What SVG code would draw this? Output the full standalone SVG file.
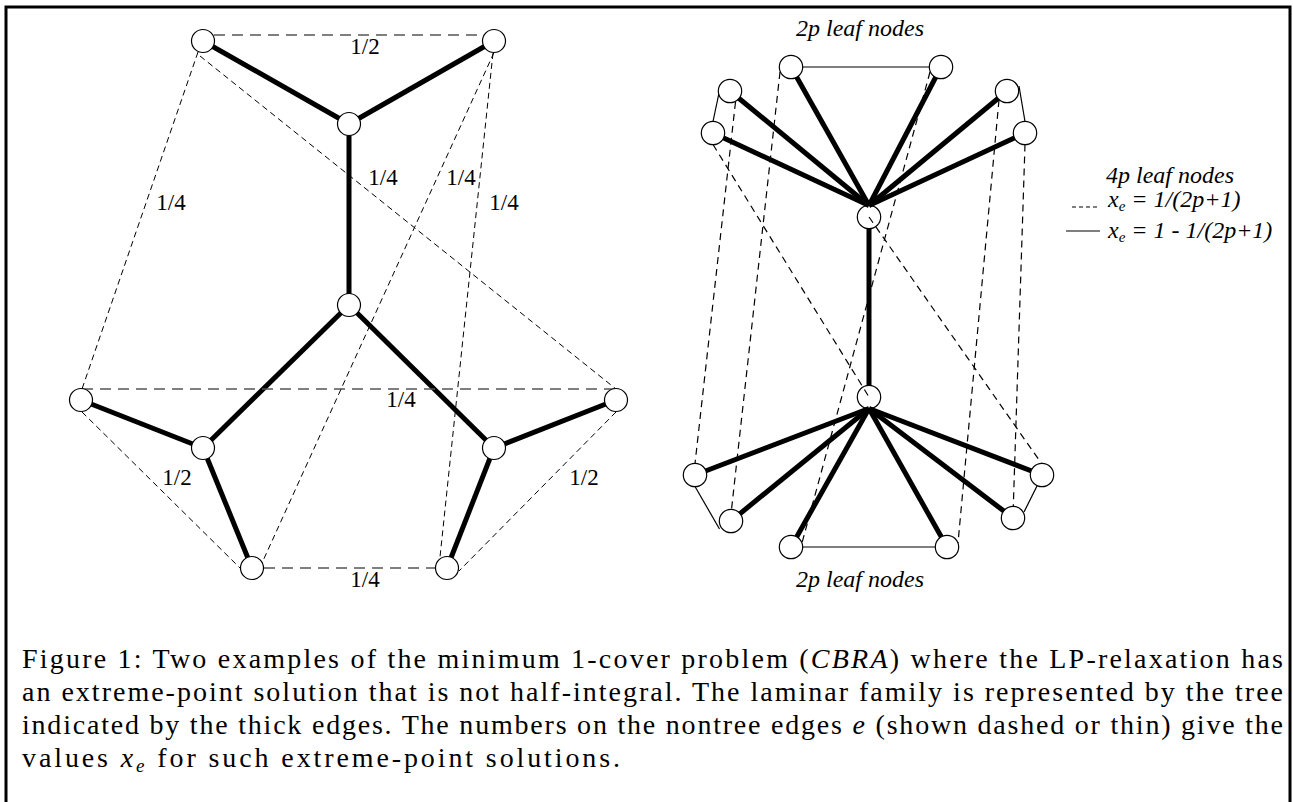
<svg xmlns="http://www.w3.org/2000/svg" width="1293" height="802" viewBox="0 0 1293 802">
<style>
.thick{stroke:#000;stroke-width:5;fill:none;stroke-linecap:butt}
.thin{stroke:#000;stroke-width:1.2;fill:none}
.dash{stroke:#000;stroke-width:1;fill:none;stroke-dasharray:6 4}
.dashr{stroke:#000;stroke-width:1.2;fill:none;stroke-dasharray:7 5}
.hdash{stroke:#555;stroke-width:1.5;fill:none;stroke-dasharray:11 7}
.node{fill:#fff;stroke:#000;stroke-width:1.2}
.hub{fill:none;stroke:#000;stroke-width:1.2}
.lbl{font-family:"Liberation Serif","Times New Roman",serif;font-size:23px;fill:#000;text-anchor:middle}
.it{font-family:"Liberation Serif","Times New Roman",serif;font-size:24px;font-style:italic;fill:#000}
.cap{font-family:"Liberation Serif","Times New Roman",serif;font-size:28px;fill:#000}
</style>
<rect width="1293" height="802" fill="#fff"/>
<path d="M6,802 V7 H1290 V802" fill="none" stroke="#000" stroke-width="3"/>

<g id="connectors">
  <line class="thick" x1="203" y1="41" x2="349" y2="124"/>
  <line class="thick" x1="494" y1="41" x2="349" y2="124"/>
  <line class="thick" x1="349" y1="124" x2="349" y2="305"/>
  <line class="thick" x1="349" y1="305" x2="203" y2="448"/>
  <line class="thick" x1="349" y1="305" x2="494" y2="448"/>
  <line class="thick" x1="81" y1="400" x2="203" y2="448"/>
  <line class="thick" x1="203" y1="448" x2="252" y2="568"/>
  <line class="thick" x1="616" y1="400" x2="494" y2="448"/>
  <line class="thick" x1="494" y1="448" x2="447" y2="568"/>
  <line class="hdash" x1="214" y1="35" x2="483" y2="35"/>
  <line class="hdash" x1="82" y1="389" x2="616" y2="389"/>
  <line class="hdash" x1="264" y1="568" x2="435" y2="568"/>
  <line class="dash" x1="198" y1="52" x2="82" y2="389"/>
  <line class="dash" x1="200" y1="56" x2="616" y2="389"/>
  <line class="dash" x1="494" y1="52.5" x2="262" y2="563"/>
  <line class="dash" x1="493" y1="53" x2="440" y2="557"/>
  <line class="dash" x1="82" y1="412" x2="240" y2="568"/>
  <line class="dash" x1="616" y1="412" x2="459" y2="571"/>

  <line class="thick" x1="869" y1="205.5" x2="791" y2="67"/>
  <line class="thick" x1="869" y1="205.5" x2="941" y2="67"/>
  <line class="thick" x1="869" y1="205.5" x2="730" y2="91"/>
  <line class="thick" x1="869" y1="205.5" x2="713" y2="133"/>
  <line class="thick" x1="869" y1="205.5" x2="1007" y2="91"/>
  <line class="thick" x1="869" y1="205.5" x2="1025" y2="133"/>
  <line class="thick" x1="869" y1="228.5" x2="869" y2="385.5"/>
  <line class="thick" x1="869" y1="408.5" x2="695" y2="475"/>
  <line class="thick" x1="869" y1="408.5" x2="731" y2="521"/>
  <line class="thick" x1="869" y1="408.5" x2="791" y2="547"/>
  <line class="thick" x1="869" y1="408.5" x2="947" y2="547"/>
  <line class="thick" x1="869" y1="408.5" x2="1042" y2="475"/>
  <line class="thick" x1="869" y1="408.5" x2="1013" y2="518"/>
  <line class="thin" x1="802.5" y1="67" x2="929.5" y2="67"/>
  <line class="thin" x1="719" y1="93" x2="713" y2="121.5"/>
  <line class="thin" x1="1019" y1="86" x2="1025" y2="121.5"/>
  <line class="thin" x1="695" y1="486.5" x2="719.5" y2="529"/>
  <line class="thin" x1="1037" y1="486" x2="1024" y2="512"/>
  <line class="thin" x1="802.5" y1="547" x2="935.5" y2="547"/>
  <line class="dashr" x1="713" y1="144.5" x2="869" y2="397"/>
  <line class="dashr" x1="735.5" y1="102" x2="695" y2="463.5"/>
  <line class="dashr" x1="780" y1="72" x2="731.5" y2="509.5"/>
  <line class="dashr" x1="930" y1="72" x2="802" y2="543"/>
  <line class="dashr" x1="869" y1="217" x2="1041.5" y2="463.5"/>
  <line class="dashr" x1="999" y1="100" x2="958" y2="543"/>
  <line class="dashr" x1="1025" y1="144.5" x2="1013.3" y2="506.5"/>
</g>

<g id="left-tl"><circle class="node" cx="203" cy="41" r="11.5"/></g>
<g id="left-tr"><circle class="node" cx="494" cy="41" r="11.5"/></g>
<g id="left-m"><circle class="node" cx="349" cy="124" r="11.5"/></g>
<g id="left-c"><circle class="node" cx="349" cy="305" r="11.5"/></g>
<g id="left-l"><circle class="node" cx="81" cy="400" r="11.5"/></g>
<g id="left-il"><circle class="node" cx="203" cy="448" r="11.5"/></g>
<g id="left-bl"><circle class="node" cx="252" cy="568" r="11.5"/></g>
<g id="left-br"><circle class="node" cx="447" cy="568" r="11.5"/></g>
<g id="left-ir"><circle class="node" cx="494" cy="448" r="11.5"/></g>
<g id="left-r"><circle class="node" cx="616" cy="400" r="11.5"/></g>

<g id="right-t1"><circle class="node" cx="791" cy="67" r="11.7"/></g>
<g id="right-t2"><circle class="node" cx="941" cy="67" r="11.7"/></g>
<g id="right-a1"><circle class="node" cx="730" cy="91" r="11.7"/></g>
<g id="right-a2"><circle class="node" cx="713" cy="133" r="11.7"/></g>
<g id="right-b1"><circle class="node" cx="1007" cy="91" r="11.7"/></g>
<g id="right-b2"><circle class="node" cx="1025" cy="133" r="11.7"/></g>
<g id="right-u"><circle class="hub" cx="869" cy="217" r="11.7"/></g>
<g id="right-d"><circle class="hub" cx="869" cy="397" r="11.7"/></g>
<g id="right-c1"><circle class="node" cx="695" cy="475" r="11.7"/></g>
<g id="right-c2"><circle class="node" cx="731" cy="521" r="11.7"/></g>
<g id="right-e1"><circle class="node" cx="791" cy="547" r="11.7"/></g>
<g id="right-e2"><circle class="node" cx="947" cy="547" r="11.7"/></g>
<g id="right-f1"><circle class="node" cx="1042" cy="475" r="11.7"/></g>
<g id="right-f2"><circle class="node" cx="1013" cy="518" r="11.7"/></g>

<g id="labels">
  <text class="lbl" x="365" y="54">1/2</text>
  <text class="lbl" x="383" y="185">1/4</text>
  <text class="lbl" x="461" y="185">1/4</text>
  <text class="lbl" x="171" y="210">1/4</text>
  <text class="lbl" x="504" y="210">1/4</text>
  <text class="lbl" x="401" y="407">1/4</text>
  <text class="lbl" x="177" y="485">1/2</text>
  <text class="lbl" x="584" y="485">1/2</text>
  <text class="lbl" x="365" y="587">1/4</text>
  <text class="it" x="860" y="36" text-anchor="middle">2p leaf nodes</text>
  <text class="it" x="860" y="587" text-anchor="middle">2p leaf nodes</text>
</g>

<g id="legend">
  <text class="it" x="1170" y="183" text-anchor="middle">4p leaf nodes</text>
  <line class="dashr" x1="1072" y1="207" x2="1100" y2="207" style="stroke-dasharray:4 3"/>
  <text class="it" x="1108" y="207">x<tspan font-size="15" dy="4">e</tspan><tspan dy="-4"> = 1/(2p+1)</tspan></text>
  <line class="thin" x1="1066" y1="231" x2="1100" y2="231"/>
  <text class="it" x="1108" y="238">x<tspan font-size="15" dy="4">e</tspan><tspan dy="-4"> = 1 - 1/(2p+1)</tspan></text>
</g>

<g id="caption">
  <text class="cap" x="22" y="668" textLength="1261" lengthAdjust="spacing">Figure 1: Two examples of the minimum 1-cover problem (<tspan font-style="italic">CBRA</tspan>) where the LP-relaxation has</text>
  <text class="cap" x="22" y="701" textLength="1261" lengthAdjust="spacing">an extreme-point solution that is not half-integral. The laminar family is represented by the tree</text>
  <text class="cap" x="22" y="734" textLength="1261" lengthAdjust="spacing">indicated by the thick edges. The numbers on the nontree edges <tspan font-style="italic">e</tspan> (shown dashed or thin) give the</text>
  <text class="cap" x="22" y="767" textLength="598" lengthAdjust="spacing">values <tspan font-style="italic">x</tspan><tspan font-style="italic" font-size="19" dy="5">e</tspan><tspan dy="-5"> for such extreme-point solutions.</tspan></text>
</g>
</svg>
